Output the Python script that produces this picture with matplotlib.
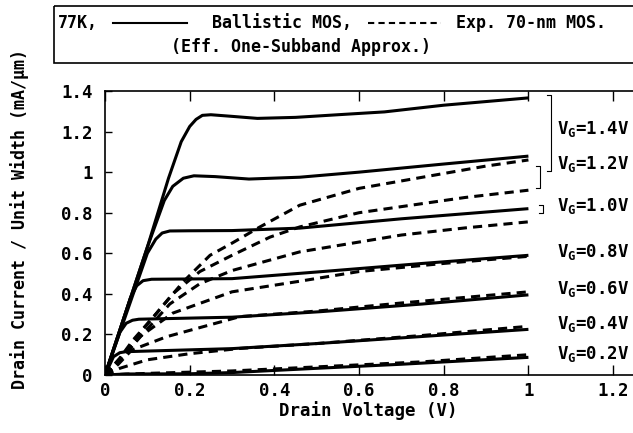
import matplotlib
matplotlib.use("Agg")
import matplotlib.pyplot as plt
from matplotlib.patches import Rectangle

plt.rcParams['font.family'] = ['DejaVu Sans Mono', 'DejaVu Sans']
plt.rcParams['font.weight'] = 'bold'
plt.rcParams['mathtext.fontset'] = 'custom'
plt.rcParams['mathtext.rm'] = 'DejaVu Sans Mono:bold'
plt.rcParams['mathtext.it'] = 'DejaVu Sans Mono:bold'

# gate voltages (top to bottom)
vg_labels = ["1.4", "1.2", "1.0", "0.8", "0.6", "0.4", "0.2"]
label_y = [1.215, 1.04, 0.835, 0.605, 0.424, 0.25, 0.103]

# ballistic MOS (solid)
ball_vd = [
    [0, 0.1, 0.15, 0.18, 0.2, 0.215, 0.23, 0.25, 0.3, 0.36, 0.45, 0.55, 0.66, 0.8, 1.0],
    [0, 0.1, 0.14, 0.16, 0.185, 0.21, 0.26, 0.34, 0.46, 0.6, 0.8, 1.0],
    [0, 0.1, 0.12, 0.135, 0.153, 0.2, 0.3, 0.46, 0.7, 1.0],
    [0, 0.06, 0.075, 0.09, 0.11, 0.3, 0.508, 0.75, 1.0],
    [0, 0.035, 0.05, 0.065, 0.08, 0.3, 0.508, 0.75, 1.0],
    [0, 0.02, 0.035, 0.05, 0.1, 0.3, 0.508, 0.75, 1.0],
    [0, 0.05, 0.2, 0.3, 0.5, 0.7, 1.0],
]
ball_id = [
    [0, 0.63, 0.97, 1.15, 1.225, 1.26, 1.28, 1.283, 1.275, 1.265, 1.27, 1.283, 1.297, 1.33, 1.366],
    [0, 0.63, 0.86, 0.93, 0.97, 0.982, 0.978, 0.966, 0.975, 1.0, 1.04, 1.079],
    [0, 0.6, 0.67, 0.70, 0.71, 0.711, 0.712, 0.724, 0.77, 0.82],
    [0, 0.38, 0.44, 0.465, 0.472, 0.475, 0.509, 0.55, 0.59],
    [0, 0.21, 0.255, 0.27, 0.275, 0.285, 0.312, 0.35, 0.395],
    [0, 0.09, 0.11, 0.115, 0.118, 0.13, 0.156, 0.19, 0.225],
    [0, 0.005, 0.006, 0.012, 0.033, 0.053, 0.087],
]

# experimental 70-nm MOS (dashed)
exp_vd = [
    [0, 0.035, 0.066, 0.122, 0.185, 0.248, 0.3, 0.366, 0.46, 0.6, 0.75, 0.9, 1.0],
    [0, 0.035, 0.08, 0.16, 0.224, 0.3, 0.39, 0.46, 0.6, 0.7, 0.85, 1.0],
    [0, 0.035, 0.08, 0.153, 0.224, 0.3, 0.46, 0.7, 0.85, 1.0],
    [0, 0.035, 0.083, 0.16, 0.3, 0.453, 0.6, 0.8, 1.0],
    [0, 0.03, 0.063, 0.146, 0.319, 0.5, 0.7, 1.0],
    [0, 0.035, 0.1, 0.2, 0.319, 0.5, 0.75, 1.0],
    [0, 0.1, 0.3, 0.5, 0.75, 1.0],
]
exp_id = [
    [0, 0.083, 0.172, 0.305, 0.46, 0.59, 0.65, 0.73, 0.837, 0.92, 0.975, 1.03, 1.06],
    [0, 0.08, 0.2, 0.40, 0.51, 0.59, 0.68, 0.73, 0.8, 0.83, 0.875, 0.911],
    [0, 0.075, 0.18, 0.35, 0.45, 0.515, 0.607, 0.69, 0.725, 0.755],
    [0, 0.07, 0.19, 0.305, 0.41, 0.46, 0.51, 0.55, 0.585],
    [0, 0.05, 0.123, 0.189, 0.288, 0.315, 0.355, 0.41],
    [0, 0.033, 0.075, 0.105, 0.131, 0.155, 0.195, 0.24],
    [0, 0.008, 0.02, 0.04, 0.065, 0.1],
]

xticks = [0, 0.2, 0.4, 0.6, 0.8, 1.0, 1.2]
xtick_labels = ["0", "0.2", "0.4", "0.6", "0.8", "1", "1.2"]
yticks = [0, 0.2, 0.4, 0.6, 0.8, 1.0, 1.2, 1.4]
ytick_labels = ["0", "0.2", "0.4", "0.6", "0.8", "1", "1.2", "1.4"]

W, H = 633, 433
FS = 12
fig = plt.figure(figsize=(W / 100, H / 100), dpi=100)
ax = fig.add_axes([105 / W, 58 / H, 528 / W, 284 / H])

for vd, i_d in zip(ball_vd, ball_id):
    ax.plot(vd, i_d, color='black', lw=2.2, solid_capstyle='butt')
for vd, i_d in zip(exp_vd, exp_id):
    ax.plot(vd, i_d, color='black', lw=2.2, dashes=(3, 2))

ax.set_xlim(0, 1.247)
ax.set_ylim(0, 1.4)
ax.set_xticks(xticks)
ax.set_xticklabels(xtick_labels)
ax.set_yticks(yticks)
ax.set_yticklabels(ytick_labels)
ax.tick_params(axis='x', direction='in', top=True, length=7, width=1, labelsize=12.5, pad=5)
ax.tick_params(axis='y', direction='in', length=5, width=1, labelsize=12.5, pad=9)
ax.spines['right'].set_visible(False)
for s in ['left', 'bottom', 'top']:
    ax.spines[s].set_linewidth(1.2)

# gate voltage labels
for lab, yl in zip(vg_labels, label_y):
    ax.text(1.067, yl, r"$\mathrm{V_G}$=" + lab + "V", fontsize=12.5,
            va='center', ha='left')

# brackets grouping pairs
bk = dict(color='black', lw=0.8, clip_on=False)
ax.plot([1.043, 1.053, 1.053, 1.043], [1.38, 1.38, 1.005, 1.005], **bk)
ax.plot([1.017, 1.027, 1.027, 1.017], [1.03, 1.03, 0.92, 0.92], **bk)
ax.plot([1.024, 1.034, 1.034, 1.024], [0.837, 0.837, 0.798, 0.798], **bk)

fig.text(19.5 / W, 1 - 219 / H, "Drain Current / Unit Width (mA/μm)",
         rotation=90, ha='center', va='center', fontsize=FS)
fig.text(368 / W, 1 - 411 / H, "Drain Voltage (V)", ha='center', va='center',
         fontsize=12.5)

# legend box at the top
lg = fig.add_axes([0, 0, 1, 1], facecolor='none')
lg.set_xlim(0, W)
lg.set_ylim(H, 0)
lg.axis('off')
lg.add_patch(Rectangle((54, 6), 600, 57, fill=False, lw=1.2, clip_on=False))
lg.plot([113, 187], [23, 23], color='black', lw=1.5)
lg.plot([368, 441], [23, 23], color='black', lw=1.5, dashes=(3, 2))
lg.text(58, 23, "77K,", fontsize=FS, va='center', ha='left')
lg.text(212, 23, "Ballistic MOS,", fontsize=FS, va='center', ha='left')
lg.text(456, 23, "Exp. 70-nm MOS.", fontsize=FS, va='center', ha='left')
lg.text(301, 47, "(Eff. One-Subband Approx.)", fontsize=FS, va='center', ha='center')

fig.savefig("out.png", dpi=100)
